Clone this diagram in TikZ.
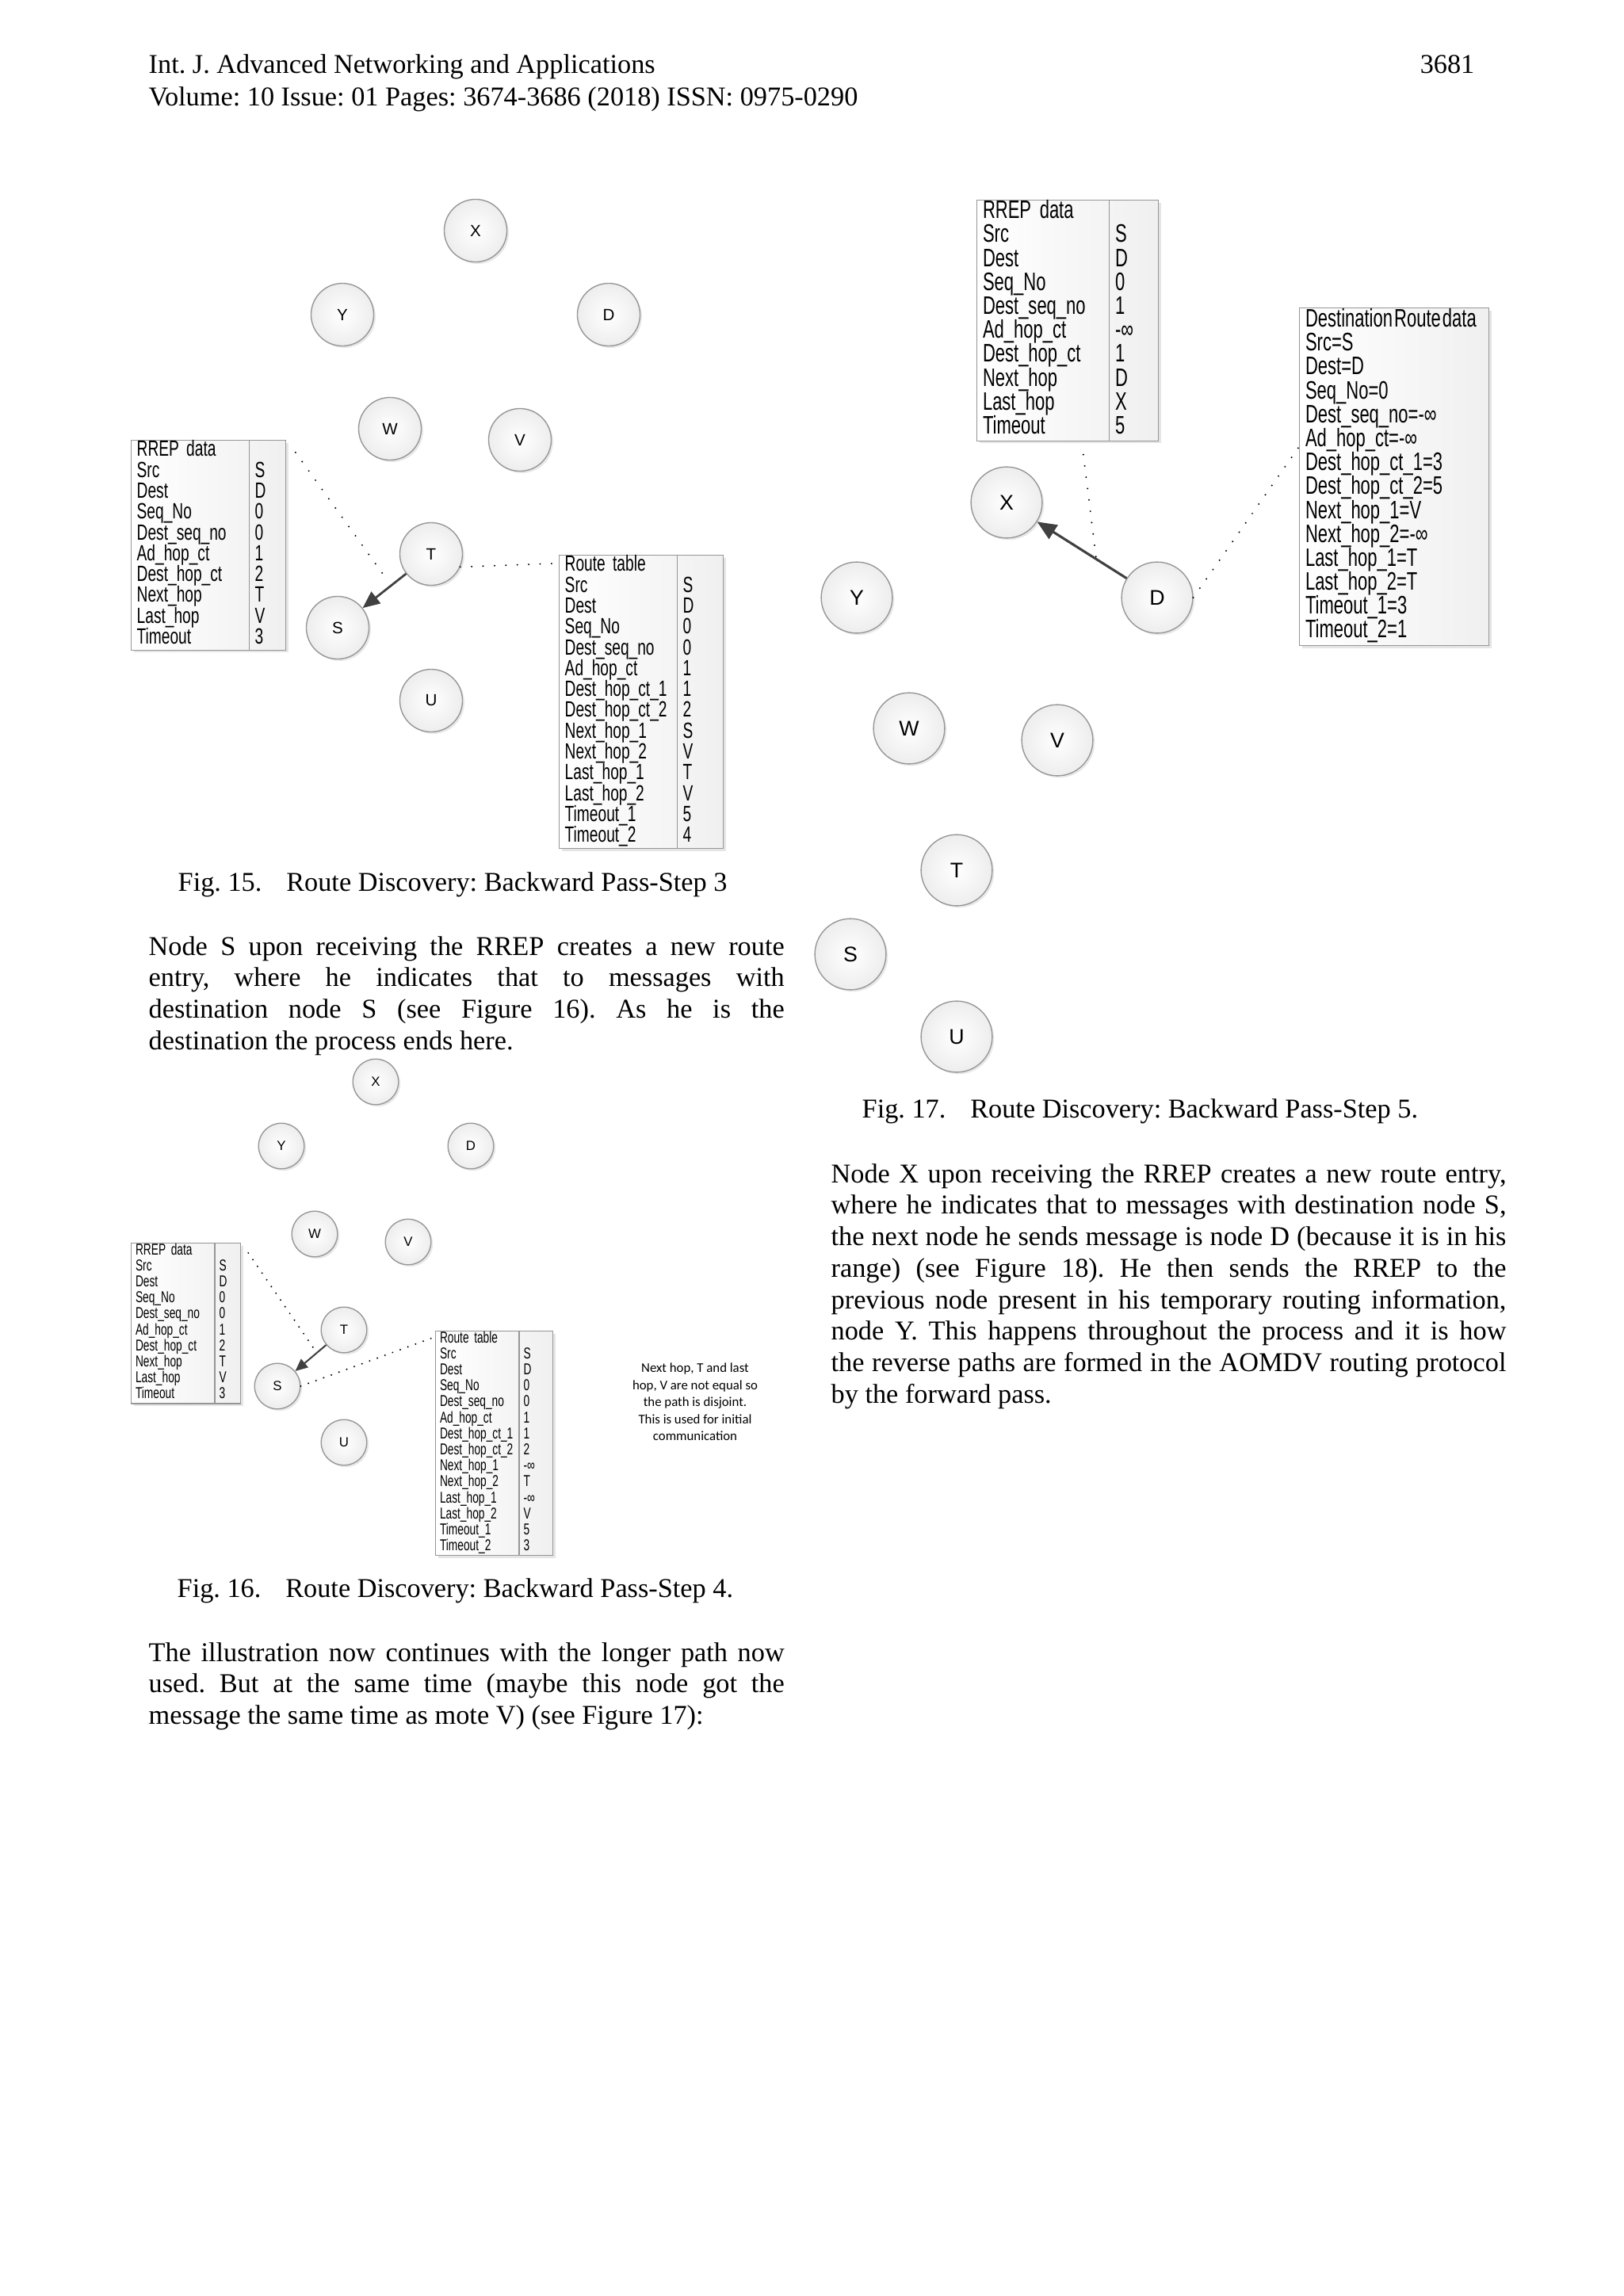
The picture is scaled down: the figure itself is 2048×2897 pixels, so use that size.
\documentclass[tikz,border=0pt]{standalone}
\usepackage{fontspec}
\setmainfont{Liberation Serif}
\newfontfamily\tabfont[FakeStretch=0.69]{Liberation Sans}
\newfontfamily\nodefont{Liberation Sans}
\newfontfamily\notefont{Carlito}
\usetikzlibrary{arrows.meta,shadows}
\definecolor{rim}{RGB}{150,150,150}
\definecolor{arrowgray}{RGB}{64,64,64}
\newlength{\labw}
\newcommand{\rw}[2]{\makebox[\labw][l]{#1}#2}
\newcommand{\bodyfont}{\fontsize{10}{11.6}\selectfont\frenchspacing\hyphenpenalty 10000\relax\tolerance 9999\relax}
\newcommand{\tabsize}[3]{\tabfont\fontsize{#1}{#2}\selectfont\lineskiplimit -5pt\relax\spaceskip 0.12em\relax\setlength{\labw}{#3}}

\tikzset{
  txt/.style={inner sep=0pt, font=\bodyfont},
  para/.style={txt, anchor=base west, text width=#1, align=justify},
  nd/.style={circle, draw=rim, line width=0.4pt, inner sep=0pt, inner color=white, outer color=gray!14,
    drop shadow={shadow xshift=0.25mm, shadow yshift=-0.25mm, opacity=0.18}},
  tbl/.style={draw=rim, line width=0.4pt, anchor=north west, inner ysep=0pt, align=left,
    left color=white, right color=gray!12,
    drop shadow={shadow xshift=0.3mm, shadow yshift=-0.3mm, opacity=0.2}},
  divline/.style={path picture={\draw[rim, line width=0.4pt]
    ([xshift=#1]path picture bounding box.north west) -- ([xshift=#1]path picture bounding box.south west);}},
  dots/.style={line width=0.65pt, dash pattern=on 0pt off #1, line cap=round},
  msg/.style={draw=arrowgray, line width=#1},
}

\begin{document}
\begin{tikzpicture}[x=0.1025mm, y=-0.1025mm,
    nd15/.style={nd, minimum size=8.1mm, font=\nodefont\fontsize{6}{7}\selectfont},
    nd16/.style={nd, minimum size=5.9mm, font=\nodefont\fontsize{4.9}{6}\selectfont},
    nd17/.style={nd, minimum size=9.2mm, font=\nodefont\fontsize{7.8}{9}\selectfont},
    tb15/.style={tbl, inner xsep=0.72mm, font={\tabsize{8.1}{7.67}{15.27mm}}},
    tb16/.style={tbl, inner xsep=0.55mm, font={\tabsize{5.8}{5.89}{10.81mm}}},
    tb17/.style={tbl, inner xsep=0.75mm, font={\tabsize{9.3}{8.8}{17.12mm}}}]
\useasboundingbox (0,0) rectangle (2048,2897);
\fill[white] (0,0) rectangle (2048,2897);

% header
\node[txt, anchor=base west] (head1) at (187,92) {Int. J. Advanced Networking and Applications};
\node[txt, anchor=base east] (pageno) at (1861,92) {3681};
\node[txt, anchor=base west] (head2) at (187,133) {Volume: 10 Issue: 01 Pages: 3674-3686 (2018) ISSN: 0975-0290};

% Fig. 15
\foreach \n/\px/\py in {X/600/291, Y/432/397, D/768/397, W/492/541, V/656/555, T/544/699, S/426/792, U/544/884}
  \node[nd15] (\n15) at (\px,\py) {\n};
\node[tb15, divline=15.27mm, text width=18.55mm, minimum height=26.96mm] (rrep15) at (165,555) {\strut RREP data\\
  \rw{Src}{S}\\ \rw{Dest}{D}\\ \rw{Seq\_No}{0}\\ \rw{Dest\_seq\_no}{0}\\ \rw{Ad\_hop\_ct}{1}\\
  \rw{Dest\_hop\_ct}{2}\\ \rw{Next\_hop}{T}\\ \rw{Last\_hop}{V}\\ \rw{Timeout}{3}\strut};
\node[tb15, divline=15.27mm, text width=19.78mm, minimum height=37.72mm] (route15) at (705,700) {\strut Route table\\
  \rw{Src}{S}\\ \rw{Dest}{D}\\ \rw{Seq\_No}{0}\\ \rw{Dest\_seq\_no}{0}\\ \rw{Ad\_hop\_ct}{1}\\
  \rw{Dest\_hop\_ct\_1}{1}\\ \rw{Dest\_hop\_ct\_2}{2}\\ \rw{Next\_hop\_1}{S}\\ \rw{Next\_hop\_2}{V}\\
  \rw{Last\_hop\_1}{T}\\ \rw{Last\_hop\_2}{V}\\ \rw{Timeout\_1}{5}\\ \rw{Timeout\_2}{4}\strut};
\coordinate (c15) at (488,731);
\draw[msg=0.8pt, -{Triangle[length=2.2mm, width=1.9mm]}] (T15) -- (S15);
\draw[dots=4.2pt, shorten <=2mm] (rrep15.north east) -- (c15);
\draw[dots=4.2pt] (T15.-24) -- ([yshift=-1.1mm]route15.north west);
\node[txt, anchor=base west] (cap15) at (224,1124) {Fig. 15.\hspace{9pt}Route Discovery: Backward Pass-Step 3};

\node[para=82.2mm] (text15) at (187,1205) {Node S upon receiving the RREP creates a new route\linebreak
  entry, where he indicates that to messages with\linebreak
  destination node S (see Figure 16). As he is the\linebreak
  destination the process ends here.};

% Fig. 16
\foreach \n/\px/\py in {X/474/1365, Y/355/1446, D/594/1446, W/397/1557, V/515/1567, T/434/1678, S/350/1749, U/434/1820}
  \node[nd16] (\n16) at (\px,\py) {\n};
\node[tb16, divline=10.81mm, text width=13.05mm, minimum height=20.71mm] (rrep16) at (165,1568) {\strut RREP data\\
  \rw{Src}{S}\\ \rw{Dest}{D}\\ \rw{Seq\_No}{0}\\ \rw{Dest\_seq\_no}{0}\\ \rw{Ad\_hop\_ct}{1}\\
  \rw{Dest\_hop\_ct}{2}\\ \rw{Next\_hop}{T}\\ \rw{Last\_hop}{V}\\ \rw{Timeout}{3}\strut};
\node[tb16, divline=10.81mm, text width=14.07mm, minimum height=29.01mm] (route16) at (549,1679) {\strut Route table\\
  \rw{Src}{S}\\ \rw{Dest}{D}\\ \rw{Seq\_No}{0}\\ \rw{Dest\_seq\_no}{0}\\ \rw{Ad\_hop\_ct}{1}\\
  \rw{Dest\_hop\_ct\_1}{1}\\ \rw{Dest\_hop\_ct\_2}{2}\\ \rw{Next\_hop\_1}{-∞}\\ \rw{Next\_hop\_2}{T}\\
  \rw{Last\_hop\_1}{-∞}\\ \rw{Last\_hop\_2}{V}\\ \rw{Timeout\_1}{5}\\ \rw{Timeout\_2}{3}\strut};
\coordinate (c16) at (397,1703);
\draw[msg=0.6pt, -{Triangle[length=1.6mm, width=1.4mm]}] (T16) -- (S16);
\draw[dots=3pt, shorten <=1.6mm] (rrep16.north east) -- (c16);
\draw[dots=3pt] (S16.east) -- ([yshift=-0.8mm]route16.north west);
\node[align=center, font=\notefont\fontsize{4.9}{6.25}\selectfont] (note16) at (877,1769) {Next hop, T and last\\
  hop, V are not equal so\\ the path is disjoint.\\ This is used for initial\\ communication};
\node[txt, anchor=base west] (cap16) at (223,2015) {Fig. 16.\hspace{9pt}Route Discovery: Backward Pass-Step 4.};

\node[para=82.2mm] (text16) at (187,2096) {The illustration now continues with the longer path now\linebreak
  used. But at the same time (maybe this node got the\linebreak
  message the same time as mote V) (see Figure 17):};

% Fig. 17
\foreach \n/\px/\py in {X/1270/634, Y/1081/754, D/1460/754, W/1147/919, V/1334/934, T/1207/1098, S/1073/1204, U/1207/1308}
  \node[nd17] (\n17) at (\px,\py) {\n};
\node[tb17, divline=17.12mm, text width=21.97mm, minimum height=30.75mm] (rrep17) at (1232,252) {\strut RREP data\\
  \rw{Src}{S}\\ \rw{Dest}{D}\\ \rw{Seq\_No}{0}\\ \rw{Dest\_seq\_no}{1}\\ \rw{Ad\_hop\_ct}{-∞}\\
  \rw{Dest\_hop\_ct}{1}\\ \rw{Next\_hop}{D}\\ \rw{Last\_hop}{X}\\ \rw{Timeout}{5}\strut};
\node[tb17, text width=23mm, minimum height=43.67mm] (dest17) at (1639,388) {\strut\mbox{Destination\hspace{0.6pt}Route\hspace{0.6pt}data}\\
  Src=S\\ Dest=D\\ Seq\_No=0\\ Dest\_seq\_no=-∞\\ Ad\_hop\_ct=-∞\\
  Dest\_hop\_ct\_1=3\\ Dest\_hop\_ct\_2=5\\ Next\_hop\_1=V\\ Next\_hop\_2=-∞\\
  Last\_hop\_1=T\\ Last\_hop\_2=T\\ Timeout\_1=3\\ Timeout\_2=1\strut};
\coordinate (c17) at (1383,704);
\draw[msg=0.9pt, -{Triangle[length=2.5mm, width=2.1mm]}] (D17) -- (X17);
\draw[dots=4.2pt, shorten <=1.7mm] ([xshift=1.8mm]rrep17.south) -- (c17);
\draw[dots=4.2pt] (D17.east) -- ([yshift=3.9mm]dest17.west);
\node[txt, anchor=base west] (cap17) at (1087,1410) {Fig. 17.\hspace{9pt}Route Discovery: Backward Pass-Step 5.};

\node[para=87.3mm] (text17) at (1048,1492) {Node X upon receiving the RREP creates a new route entry,\linebreak
  where he indicates that to messages with destination node S,\linebreak
  the next node he sends message is node D (because it is in his\linebreak
  range) (see Figure 18). He then sends the RREP to the\linebreak
  previous node present in his temporary routing information,\linebreak
  node Y. This happens throughout the process and it is how\linebreak
  the reverse paths are formed in the AOMDV routing protocol\linebreak
  by the forward pass.};
\end{tikzpicture}
\end{document}
